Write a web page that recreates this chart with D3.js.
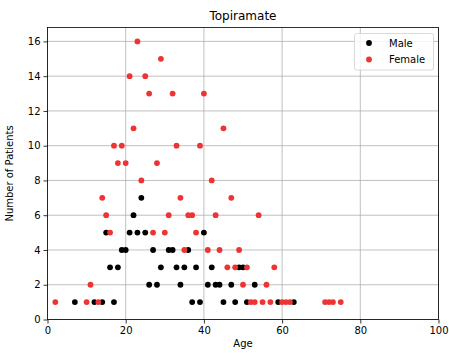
<!DOCTYPE html>
<html><head><meta charset="utf-8">
<script src="https://cdn.jsdelivr.net/npm/d3@7"></script>
<style>body{margin:0;background:#fff}</style>
</head><body>
<svg id="chart" width="449" height="353"></svg>
<script>
const title = "Topiramate";
const xTicks = [0,20,40,60,80,100];
const yTicks = [0,2,4,6,8,10,12,14,16];
const maleAge = [7,12,14,17,37,39,45,48,51,59,63, 26,28,34,41,43,44,47,53, 16,18,29,33,35,38,42,49,50, 19,20,27,31,32,36, 15,21,23,25,40, 22, 24];
const maleCount = [1,1,1,1,1,1,1,1,1,1,1, 2,2,2,2,2,2,2,2, 3,3,3,3,3,3,3,3,3, 4,4,4,4,4,4, 5,5,5,5,5, 6, 7];
const femaleAge = [2,10,13,52,53,55,57,60,61,62,71,72,73,75, 11,50,56, 46,48,51,58, 35,41,44,49, 16,27,30,38, 15,31,36,37,43,54, 14,34,47, 24,42, 18,20,28, 17,19,33,39, 22,45, 26,32,40, 21,25, 29, 23];
const femaleCount = [1,1,1,1,1,1,1,1,1,1,1,1,1,1, 2,2,2, 3,3,3,3, 4,4,4,4, 5,5,5,5, 6,6,6,6,6,6, 7,7,7, 8,8, 9,9,9, 10,10,10,10, 11,11, 13,13,13, 14,14, 15, 16];
const seriesNames = ["Male","Female"];
const colors = ["#000000","#ee3333"];

const svg = d3.select("#chart");
const L = 47.5, R = 438.5, T = 27.5, B = 319.5;
const x = d3.scaleLinear().domain([0,100]).range([L,R]);
const y = d3.scaleLinear().domain([0,16.8]).range([B,T]);
const font = "DejaVu Sans, sans-serif";

// grid
svg.append("g").selectAll("line").data(xTicks).join("line")
  .attr("x1",d=>x(d)).attr("x2",d=>x(d)).attr("y1",T).attr("y2",B)
  .attr("stroke","#b0b0b0").attr("stroke-width",0.8);
svg.append("g").selectAll("line").data(yTicks).join("line")
  .attr("x1",L).attr("x2",R).attr("y1",d=>y(d)).attr("y2",d=>y(d))
  .attr("stroke","#b0b0b0").attr("stroke-width",0.8);

// axes
const xAxis = svg.append("g").attr("transform",`translate(0,${B})`)
  .call(d3.axisBottom(x).tickValues(xTicks).tickFormat(d3.format("d")).tickSizeOuter(0).tickSize(4).tickPadding(3));
const yAxis = svg.append("g").attr("transform",`translate(${L},0)`)
  .call(d3.axisLeft(y).tickValues(yTicks).tickFormat(d3.format("d")).tickSizeOuter(0).tickSize(4).tickPadding(3));
[xAxis,yAxis].forEach(g=>{
  g.select(".domain").remove();
  g.selectAll("text").attr("font-family",font).attr("font-size",10).attr("fill","#000");
  g.selectAll("line").attr("stroke","#000").attr("stroke-width",0.8);
});

// points
const male = maleAge.map((a,i)=>({a, c:maleCount[i]}));
const female = femaleAge.map((a,i)=>({a, c:femaleCount[i]}));
[male,female].forEach((data,k)=>{
  svg.append("g").selectAll("circle").data(data).join("circle")
    .attr("cx",d=>x(d.a)).attr("cy",d=>y(d.c)).attr("r",2.9)
    .attr("fill",colors[k]);
});

// frame
svg.append("rect").attr("x",L).attr("y",T).attr("width",R-L).attr("height",B-T)
  .attr("fill","none").attr("stroke","#000").attr("stroke-width",0.8);

// title and labels
svg.append("text").attr("x",(L+R)/2).attr("y",20).attr("text-anchor","middle")
  .attr("font-family",font).attr("font-size",12).text(title);
svg.append("text").attr("x",(L+R)/2).attr("y",347).attr("text-anchor","middle")
  .attr("font-family",font).attr("font-size",10).text("Age");
svg.append("text").attr("transform",`translate(13,${(T+B)/2}) rotate(-90)`).attr("text-anchor","middle")
  .attr("font-family",font).attr("font-size",10).text("Number of Patients");

// legend
const lg = svg.append("g");
lg.append("rect").attr("x",354.5).attr("y",33.5).attr("width",79).attr("height",36.5).attr("rx",2)
  .attr("fill","#fff").attr("fill-opacity",0.8).attr("stroke","#d0d0d0").attr("stroke-width",0.8);
seriesNames.forEach((n,i)=>{
  lg.append("circle").attr("cx",369).attr("cy",43+i*16.5).attr("r",2.9).attr("fill",colors[i]);
  lg.append("text").attr("x",389).attr("y",46.5+i*16.5).attr("font-family",font).attr("font-size",10).text(n);
});
</script>
</body></html>
